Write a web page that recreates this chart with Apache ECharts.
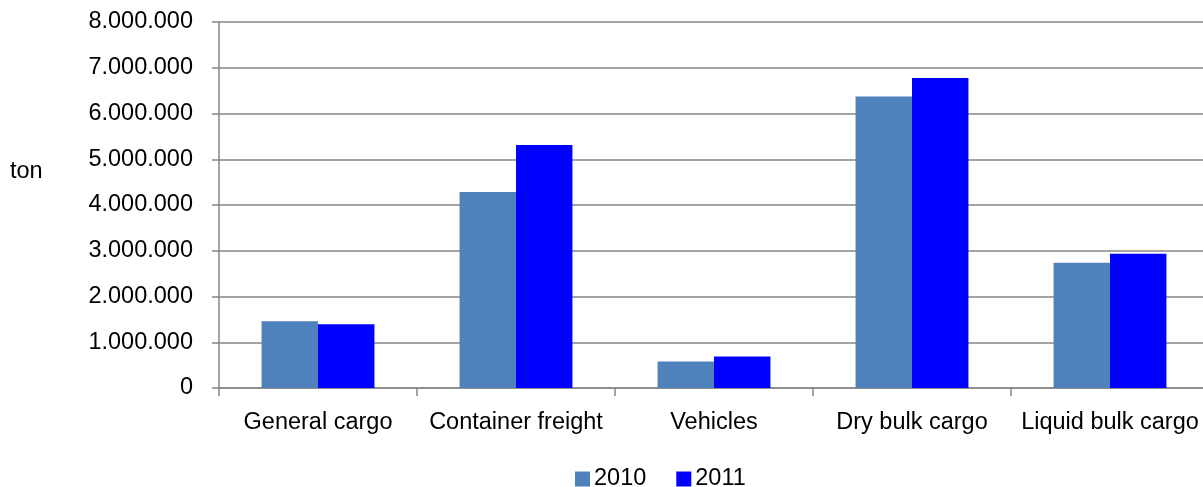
<!DOCTYPE html>
<html><head><meta charset="utf-8">
<script src="https://cdn.jsdelivr.net/npm/echarts@6/dist/echarts.min.js"></script>
<style>html,body{margin:0;padding:0;background:#fff;overflow:hidden}#c{width:1209px;height:487px}</style>
</head><body><div id="c"></div>
<script>
const categories = ["General cargo", "Container freight", "Vehicles", "Dry bulk cargo", "Liquid bulk cargo"];
const seriesNames = ["2010", "2011"];
const values2010 = [1460000, 4285000, 578000, 6370000, 2737000];
const values2011 = [1395000, 5310000, 687000, 6775000, 2934000];
const axisName = "ton";

const FONT = "Liberation Sans";
const FS = 23.5;
const fmt = v => v === 0 ? "0" : String(v).replace(/\B(?=(\d{3})+(?!\d))/g, ".");

const chart = echarts.init(document.getElementById('c'), null, {renderer: 'canvas'});
chart.setOption({
  animation: false,
  backgroundColor: '#fff',
  textStyle: {fontFamily: FONT},
  grid: {left: 219, right: 0, top: 22, bottom: 99, containLabel: false},
  legend: {
    data: seriesNames, top: 467, left: 575,
    itemWidth: 15, itemHeight: 15, itemGap: 30,
    icon: 'rect', padding: 0,
    textStyle: {fontFamily: FONT, fontSize: FS, color: '#000', padding: [0,0,0,-1]}
  },
  graphic: [{type: 'text', left: 10, top: 160, style: {text: axisName, font: FS + 'px "Liberation Sans"', fill: '#000'}}],
  xAxis: {
    type: 'category', data: categories,
    axisLine: {lineStyle: {color: '#868686', width: 1.5}},
    axisTick: {show: true, length: 8, lineStyle: {color: '#868686', width: 1.5}},
    axisLabel: {fontFamily: FONT, fontSize: FS, color: '#000', margin: 23, interval: 0}
  },
  yAxis: {
    type: 'value', min: 0, max: 8000000, interval: 1000000,
    axisLine: {show: true, lineStyle: {color: '#868686', width: 1.5}},
    axisTick: {show: true, length: 7, inside: false, lineStyle: {color: '#868686', width: 1.5}},
    splitLine: {lineStyle: {color: '#868686', width: 1.5}},
    axisLabel: {fontFamily: FONT, fontSize: FS, color: '#000', margin: 26, formatter: fmt}
  },
  series: [
    {name: seriesNames[0], type: 'bar', data: values2010, barGap: '0%', barCategoryGap: '43%', itemStyle: {color: '#4F81BD'}},
    {name: seriesNames[1], type: 'bar', data: values2011, barGap: '0%', barCategoryGap: '43%', itemStyle: {color: '#0000FF'}}
  ]
});
</script></body></html>
